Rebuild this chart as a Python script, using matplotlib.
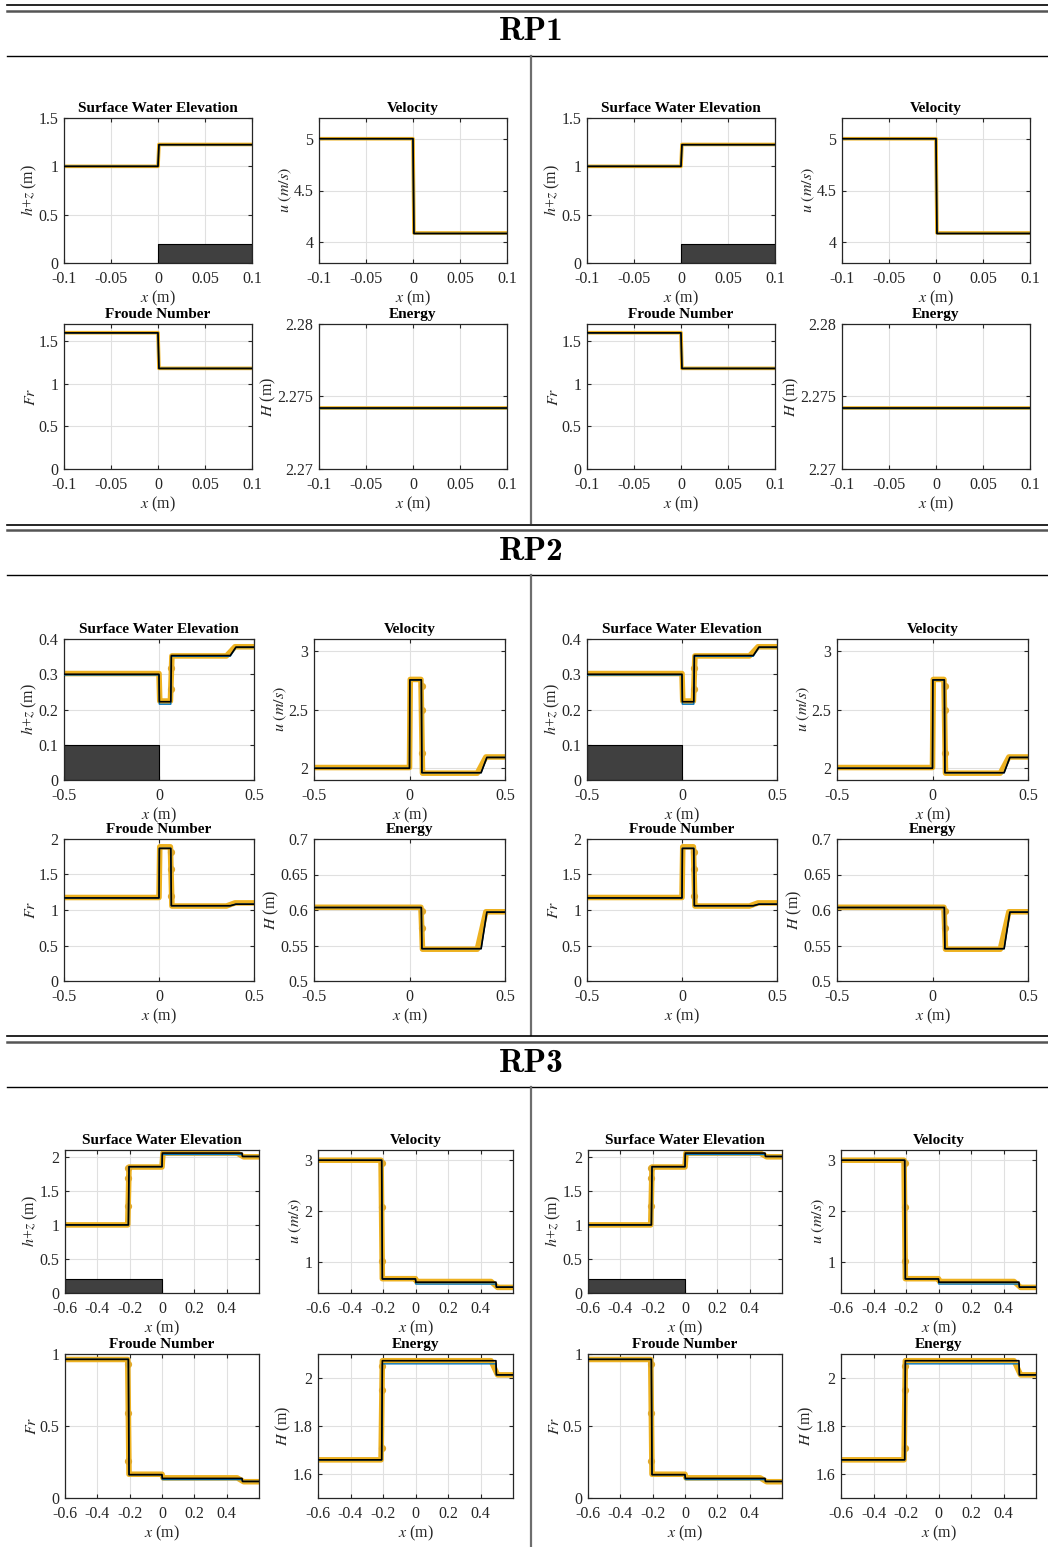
import os
import numpy as np
import matplotlib
import matplotlib.pyplot as plt
from matplotlib.lines import Line2D
from matplotlib.font_manager import FontProperties

plt.rcParams['font.family'] = ['Liberation Serif', 'DejaVu Serif']
plt.rcParams['mathtext.fontset'] = 'stix'
plt.rcParams['axes.unicode_minus'] = False

# ---------------- data ----------------
# RP1
rp1_x_exact = [-0.1, 0.0, 0.001, 0.1]
rp1_h_exact = [1.0, 1.0, 1.224, 1.224]
rp1_u_exact = [5.0, 5.0, 4.085, 4.085]
rp1_fr_exact = [1.596, 1.596, 1.179, 1.179]
rp1_E_exact = [2.2742, 2.2742, 2.2742, 2.2742]
rp1_x_num = [-0.1, 0.0, 0.001, 0.1]
rp1_h_num = [1.0, 1.0, 1.226, 1.226]
rp1_u_num = [5.0, 5.0, 4.09, 4.09]
rp1_fr_num = [1.598, 1.598, 1.18, 1.18]
rp1_E_num = [2.2742, 2.2742, 2.2742, 2.2742]
rp1_mk_x = 0.0
rp1_h_mk, rp1_u_mk, rp1_fr_mk, rp1_E_mk = [], [], [], []
rp1_bed = [0.0, 0.1, 0.2]

# RP2
rp2_x_exact = [-0.5, 0.0, 0.002, 0.062, 0.065, 0.375, 0.405, 0.5]
rp2_h_exact = [0.300, 0.300, 0.222, 0.222, 0.353, 0.353, 0.377, 0.377]
rp2_u_exact = [2.0, 2.0, 2.752, 2.752, 1.962, 1.962, 2.092, 2.092]
rp2_fr_exact = [1.17, 1.17, 1.868, 1.868, 1.06, 1.06, 1.082, 1.082]
rp2_E_exact = [0.6035, 0.6035, 0.6035, 0.6035, 0.5455, 0.5455, 0.597, 0.597]
rp2_x_num = [-0.5, 0.0, 0.004, 0.060, 0.068, 0.355, 0.400, 0.5]
rp2_h_num = [0.302, 0.302, 0.224, 0.224, 0.352, 0.352, 0.378, 0.378]
rp2_u_num = [2.006, 2.006, 2.756, 2.756, 1.958, 1.958, 2.096, 2.096]
rp2_fr_num = [1.176, 1.176, 1.89, 1.89, 1.056, 1.056, 1.10, 1.10]
rp2_E_num = [0.6038, 0.6038, 0.6038, 0.6038, 0.5448, 0.5448, 0.5975, 0.5975]
rp2_h_blue = [0.298, 0.298, 0.215, 0.215, 0.351, 0.351, 0.376, 0.376]
rp2_mk_x = 0.064
rp2_h_mk = [0.318, 0.258]
rp2_u_mk = [2.70, 2.50, 2.13]
rp2_fr_mk = [1.82, 1.58, 1.20]
rp2_E_mk = [0.598, 0.574]
rp2_bed = [-0.5, 0.0, 0.1]

# RP3
rp3_x_exact = [-0.6, -0.208, -0.204, 0.0, 0.002, 0.495, 0.498, 0.6]
rp3_h_exact = [1.0, 1.0, 1.855, 1.855, 2.055, 2.055, 2.005, 2.005]
rp3_u_exact = [3.0, 3.0, 0.675, 0.675, 0.612, 0.612, 0.515, 0.515]
rp3_fr_exact = [0.963, 0.963, 0.162, 0.162, 0.136, 0.136, 0.115, 0.115]
rp3_E_exact = [1.659, 1.659, 2.072, 2.072, 2.072, 2.072, 2.013, 2.013]
rp3_x_num = [-0.6, -0.212, -0.204, 0.0, 0.006, 0.465, 0.505, 0.6]
rp3_h_num = [1.0, 1.0, 1.85, 1.85, 2.055, 2.055, 2.0, 2.0]
rp3_u_num = [3.0, 3.0, 0.68, 0.68, 0.625, 0.625, 0.51, 0.51]
rp3_fr_num = [0.962, 0.962, 0.165, 0.165, 0.14, 0.14, 0.113, 0.113]
rp3_E_num = [1.659, 1.659, 2.072, 2.072, 2.072, 2.072, 2.013, 2.013]
rp3_h_blue = [1.0, 1.0, 1.855, 1.855, 2.034, 2.034, 2.005, 2.005]
rp3_u_blue = [3.0, 3.0, 0.675, 0.675, 0.575, 0.575, 0.515, 0.515]
rp3_fr_blue = [0.963, 0.963, 0.162, 0.162, 0.128, 0.128, 0.115, 0.115]
rp3_E_blue = [1.659, 1.659, 2.059, 2.059, 2.059, 2.059, 2.013, 2.013]
rp3_mk_x = -0.208
rp3_h_mk = [1.83, 1.69, 1.28]
rp3_u_mk = [2.95, 2.08, 1.03]
rp3_fr_mk = [0.93, 0.59, 0.26]
rp3_E_mk = [2.05, 1.95, 1.71]
rp3_bed = [-0.6, 0.0, 0.2]

# ticks
rp1_xticks = [-0.1, -0.05, 0, 0.05, 0.1]
rp1_xlabels = ['-0.1', '-0.05', '0', '0.05', '0.1']
rp2_xticks = [-0.5, 0, 0.5]
rp2_xlabels = ['-0.5', '0', '0.5']
rp3_xticks = [-0.6, -0.4, -0.2, 0, 0.2, 0.4]
rp3_xlabels = ['-0.6', '-0.4', '-0.2', '0', '0.2', '0.4']

rp1_yticks = [[0, 0.5, 1, 1.5], [4, 4.5, 5], [0, 0.5, 1, 1.5], [2.27, 2.275, 2.28]]
rp1_ylabels = [['0', '0.5', '1', '1.5'], ['4', '4.5', '5'], ['0', '0.5', '1', '1.5'],
               ['2.27', '2.275', '2.28']]
rp1_ylims = [(0, 1.5), (3.8, 5.2), (0, 1.7), (2.27, 2.28)]
rp2_yticks = [[0, 0.1, 0.2, 0.3, 0.4], [2, 2.5, 3], [0, 0.5, 1, 1.5, 2],
              [0.5, 0.55, 0.6, 0.65, 0.7]]
rp2_ylabels = [['0', '0.1', '0.2', '0.3', '0.4'], ['2', '2.5', '3'],
               ['0', '0.5', '1', '1.5', '2'], ['0.5', '0.55', '0.6', '0.65', '0.7']]
rp2_ylims = [(0, 0.4), (1.9, 3.1), (0, 2), (0.5, 0.7)]
rp3_yticks = [[0, 0.5, 1, 1.5, 2], [1, 2, 3], [0, 0.5, 1], [1.6, 1.8, 2]]
rp3_ylabels = [['0', '0.5', '1', '1.5', '2'], ['1', '2', '3'], ['0', '0.5', '1'],
               ['1.6', '1.8', '2']]
rp3_ylims = [(0, 2.1), (0.4, 3.2), (0, 1), (1.5, 2.1)]

titles = ['Surface Water Elevation', 'Velocity', 'Froude Number', 'Energy']
ylabs = ['$h$+$z$ (m)', '$u\\ (m/s)$', '$Fr$', '$H$ (m)']
section_names = ['RP1', 'RP2', 'RP3']

# ---------------- layout ----------------
W, H = 1048, 1547
ORANGE = '#EDB120'
BLUE = '#0072BD'
AXCOL = '#262626'

cm_bold = FontProperties(fname=os.path.join(matplotlib.get_data_path(), 'fonts', 'ttf', 'cmb10.ttf'),
                         size=24)

fig = plt.figure(figsize=(W / 100, H / 100), dpi=100)


def hline(y, color, lw):
    fig.add_artist(Line2D([7 / W, 1], [1 - y / H, 1 - y / H], color=color, lw=lw,
                          transform=fig.transFigure))


def vline(x, y0, y1):
    fig.add_artist(Line2D([x / W, x / W], [1 - y0 / H, 1 - y1 / H], color='#6e6e6e',
                          lw=1.6, transform=fig.transFigure))


# section header positions: double line 1, double line 2, title, line below, divider end
headers = [(5, 11, 32, 56, 523), (525, 530, 551, 575, 1035), (1036, 1042, 1063, 1087, 1547)]
# axes boxes in pixels (left panel): x0, x1, ytop, ybot
boxes = [
    [[64, 252, 118, 263], [319, 507, 118, 263], [64, 252, 324, 469], [319, 507, 324, 469]],
    [[64, 254, 639, 780], [314, 505, 639, 780], [64, 254, 839, 981], [314, 505, 839, 981]],
    [[65, 259, 1150, 1293], [318, 513, 1150, 1293], [65, 259, 1354, 1498], [318, 513, 1354, 1498]],
]
offset_right = 523

sections = [
    dict(xe=rp1_x_exact, xn=rp1_x_num,
         ex=[rp1_h_exact, rp1_u_exact, rp1_fr_exact, rp1_E_exact],
         num=[rp1_h_num, rp1_u_num, rp1_fr_num, rp1_E_num],
         blue=[rp1_h_exact, rp1_u_exact, rp1_fr_exact, rp1_E_exact],
         mkx=rp1_mk_x, mk=[rp1_h_mk, rp1_u_mk, rp1_fr_mk, rp1_E_mk], bed=rp1_bed,
         xt=rp1_xticks, xl=rp1_xlabels, yt=rp1_yticks, yl=rp1_ylabels, ylim=rp1_ylims,
         xlim=(-0.1, 0.1), lw=2.6),
    dict(xe=rp2_x_exact, xn=rp2_x_num,
         ex=[rp2_h_exact, rp2_u_exact, rp2_fr_exact, rp2_E_exact],
         num=[rp2_h_num, rp2_u_num, rp2_fr_num, rp2_E_num],
         blue=[rp2_h_blue, rp2_u_exact, rp2_fr_exact, rp2_E_exact],
         mkx=rp2_mk_x, mk=[rp2_h_mk, rp2_u_mk, rp2_fr_mk, rp2_E_mk], bed=rp2_bed,
         xt=rp2_xticks, xl=rp2_xlabels, yt=rp2_yticks, yl=rp2_ylabels, ylim=rp2_ylims,
         xlim=(-0.5, 0.5), lw=4.0),
    dict(xe=rp3_x_exact, xn=rp3_x_num,
         ex=[rp3_h_exact, rp3_u_exact, rp3_fr_exact, rp3_E_exact],
         num=[rp3_h_num, rp3_u_num, rp3_fr_num, rp3_E_num],
         blue=[rp3_h_blue, rp3_u_blue, rp3_fr_blue, rp3_E_blue],
         mkx=rp3_mk_x, mk=[rp3_h_mk, rp3_u_mk, rp3_fr_mk, rp3_E_mk], bed=rp3_bed,
         xt=rp3_xticks, xl=rp3_xlabels, yt=rp3_yticks, yl=rp3_ylabels, ylim=rp3_ylims,
         xlim=(-0.6, 0.6), lw=4.0),
]

for s, sec in enumerate(sections):
    d1, d2, ty, ly, vend = headers[s]
    hline(d1, 'black', 1.2)
    hline(d2, '#555555', 1.8)
    hline(ly, 'black', 1.0)
    vline(531, ly, vend)
    fig.text(531 / W, 1 - ty / H, section_names[s], fontproperties=cm_bold,
             ha='center', va='center')

    for side in range(2):
        for k in range(4):
            x0, x1, yt, yb = boxes[s][k]
            x0 += side * offset_right
            x1 += side * offset_right
            ax = fig.add_axes([x0 / W, 1 - yb / H, (x1 - x0) / W, (yb - yt) / H])
            ax.set_axisbelow(True)
            ax.grid(True, color='#e0e0e0', lw=0.8)
            if k == 0:
                b = sec['bed']
                ax.fill_between([b[0], b[1]], 0, b[2], facecolor='#404040',
                                edgecolor='black', lw=0.8, zorder=1.5)
            ax.plot(sec['xn'], sec['num'][k], color=ORANGE, lw=sec['lw'],
                    solid_joinstyle='round', zorder=2)
            if sec['mk'][k]:
                ax.plot([sec['mkx']] * len(sec['mk'][k]), sec['mk'][k], 'o', ms=4.2,
                        color='#E0A82A', zorder=2)
            ax.plot(sec['xe'], sec['blue'][k], color=BLUE, lw=1.0, zorder=3)
            ax.plot(sec['xe'], sec['ex'][k], color='black', lw=1.2, zorder=4)

            ax.set_xlim(*sec['xlim'])
            ax.set_ylim(*sec['ylim'][k])
            ax.set_xticks(sec['xt'])
            ax.set_xticklabels(sec['xl'])
            ax.set_yticks(sec['yt'][k])
            ax.set_yticklabels(sec['yl'][k])
            ax.tick_params(direction='in', top=True, right=True, length=3, width=0.8,
                           colors=AXCOL, labelsize=11.5)
            ax.tick_params(axis='x', pad=6)
            ax.tick_params(axis='y', pad=4)
            for sp in ax.spines.values():
                sp.set_color(AXCOL)
                sp.set_linewidth(0.9)
            ax.set_title(titles[k], fontsize=11, fontweight='bold', pad=4)
            ax.set_xlabel('$x$ (m)', fontsize=11.5, color=AXCOL, labelpad=1)
            ax.set_ylabel(ylabs[k], fontsize=11.5, color=AXCOL, labelpad=0)

fig.savefig('out.png', dpi=100)
